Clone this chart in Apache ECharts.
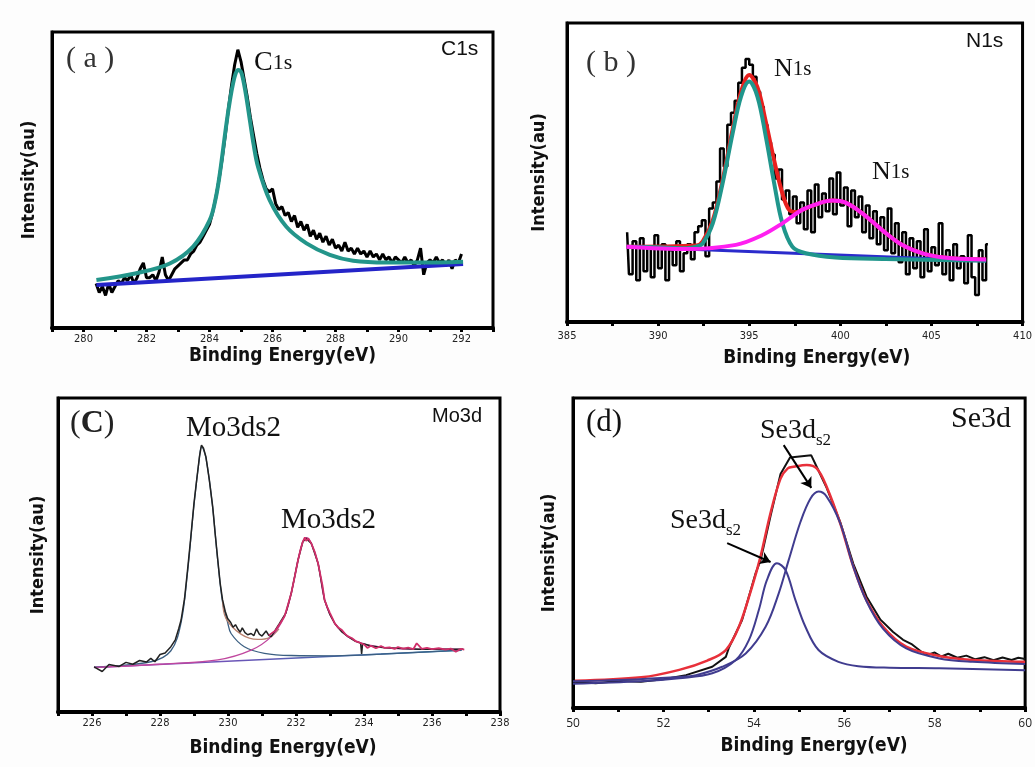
<!DOCTYPE html>
<html>
<head>
<meta charset="utf-8">
<title>XPS spectra</title>
<script src="https://cdn.jsdelivr.net/npm/echarts@6/dist/echarts.min.js"></script>
<style>
  html, body { margin: 0; padding: 0; background: #fdfdfd; }
  #chart { width: 1035px; height: 767px; }
</style>
</head>
<body>
<div id="chart"></div>
<script>
// (a) C1s  -- [binding energy, intensity]
var c1sRaw = [[280.4,15],[280.5,12],[280.6,14],[280.7,11],[280.8,15],[280.9,12],[281.0,14],
  [281.1,16],[281.2,15],[281.3,17],[281.4,16],[281.5,18],[281.6,15],[281.7,17],[281.8,20],[281.9,22],[282.0,17],
  [282.1,17],[282.2,18],[282.3,16],[282.4,19],[282.5,24],[282.6,18],[282.7,16],[282.8,18],[282.9,20],[283.0,21],
  [283.1,22],[283.2,23],[283.3,23],[283.4,25],[283.5,26],[283.6,28],[283.7,29],[283.8,31],[283.9,33],[284.0,35],
  [284.1,39],[284.2,44],[284.3,50],[284.4,57],[284.5,65],[284.6,74],[284.7,82],[284.8,89],[284.9,94],[285.0,90],
  [285.1,84],[285.2,78],[285.3,71],[285.4,65],[285.5,59],[285.6,54],[285.7,50],[285.8,47],[285.9,46],[286.0,47],
  [286.1,42],[286.2,40],[286.3,41],[286.4,38],[286.5,39],[286.6,36],[286.7,38],[286.8,34],[286.9,36],[287.0,33],
  [287.1,35],[287.2,31],[287.3,33],[287.4,30],[287.5,32],[287.6,29],[287.7,31],[287.8,28],[287.9,30],[288.0,27],
  [288.1,28],[288.2,26],[288.3,29],[288.4,26],[288.5,27],[288.6,25],[288.7,27],[288.8,25],[288.9,26],[289.0,24],
  [289.1,26],[289.2,24],[289.3,25],[289.4,23],[289.5,25],[289.6,23],[289.7,24],[289.8,22],[289.9,24],[290.0,23],
  [290.1,22],[290.2,24],[290.3,22],[290.4,23],[290.5,21],[290.6,23],[290.7,27],[290.8,18],[290.9,22],[291.0,23],
  [291.1,22],[291.2,24],[291.3,22],[291.4,23],[291.5,21],[291.6,23],[291.7,20],[291.8,23],[291.9,22],[292.0,25]];
var c1sFit = [[280.41,16.2],[281.68,18.5],[282.74,21.8],[283.48,27.5],[284.01,36.5],[284.2,44],[284.33,52.3],
  [284.54,69.2],[284.65,77],[284.75,82.7],[284.83,86],[284.91,87.2],[285.0,86.5],[285.07,83.8],[285.17,78],
  [285.28,70.3],[285.4,62],[285.54,54.5],[285.91,43.2],[286.44,34.2],[287.08,28.6],[287.82,24.7],[288.56,22.7],
  [289.62,22.1],[290.68,22.1],[292.05,22.4]];
var c1sBase = [[280.41,14.5],[292.05,21.6]];
var c1sTicks = [280, 282, 284, 286, 288, 290, 292];

// (b) N1s
var n1sRaw = [[388.3,30],[388.5,16],[388.7,27],[388.9,14],[389.1,28],[389.3,17],[389.5,25],[389.7,15],[389.9,29],[390.1,18],
  [390.3,26],[390.5,14],[390.7,24],[390.9,19],[391.1,27],[391.3,17],[391.5,23],[391.7,26],[391.9,21],[392.1,30],
  [392.3,32],[392.5,34],[392.7,22],[392.9,38],[393.1,40],[393.3,47],[393.5,58],[393.7,52],[393.9,66],[394.1,70],
  [394.3,74],[394.5,80],[394.7,85],[394.9,88],[395.1,86],[395.3,82],[395.5,77],[395.7,72],[395.9,66],[396.1,60],
  [396.3,56],[396.5,48],[396.7,51],[396.9,41],[397.1,44],[397.3,36],[397.5,42],[397.7,33],[397.9,40],[398.1,31],
  [398.3,44],[398.5,30],[398.7,46],[398.9,35],[399.1,43],[399.3,37],[399.5,48],[399.7,36],[399.9,50],[400.1,39],
  [400.3,45],[400.5,32],[400.7,44],[400.9,35],[401.1,42],[401.3,30],[401.5,39],[401.7,28],[401.9,37],[402.1,26],
  [402.3,35],[402.5,24],[402.7,38],[402.9,23],[403.1,33],[403.3,20],[403.5,30],[403.7,16],[403.9,28],[404.1,18],
  [404.3,27],[404.5,15],[404.7,31],[404.9,17],[405.1,25],[405.3,19],[405.5,33],[405.7,16],[405.9,24],[406.1,14],
  [406.3,26],[406.5,18],[406.7,22],[406.9,13],[407.1,29],[407.3,15],[407.5,9],[407.7,24],[407.9,14],[408.1,26]];
var n1sSum = [[388.26,25.2],[392.1,25.6],[392.45,27],[393.0,34],[393.54,47.5],[394.09,64.5],[394.55,77],[395.0,82.6],
  [395.45,78.5],[395.91,67],[396.37,54],[396.82,43],[397.19,37.5],[397.6,36.8],[397.9,37.5],[398.83,39.7],[399.55,40.6],
  [400.28,39.9],[401.19,36.4],[402.28,30.8],[403.38,25.8],[404.66,22.7],[406.11,21.3],[408.0,20.9]];
var n1sPeak1 = [[388.26,25.2],[390.0,25],[391.54,24.7],[392.1,25.2],[392.45,26.3],[393.0,33],[393.54,46.4],[394.09,63.1],
  [394.55,75.4],[395.0,80.4],[395.45,75.4],[395.91,62],[396.37,46.4],[396.82,33],[397.37,25.2],[398.1,23],
  [399.74,21.6],[402.47,21.1],[408.0,20.5]];
var n1sPeak2 = [[388.26,25.2],[391.54,24.4],[394.27,25.8],[395.73,29.1],[396.82,33],[397.9,37.5],[398.83,39.7],
  [399.55,40.6],[400.28,39.9],[401.19,36.4],[402.28,30.8],[403.38,25.8],[404.66,22.7],[406.11,21.3],[408.0,20.9]];
var n1sBase = [[388.26,25.2],[408.0,20.5]];
var n1sTicks = [385, 390, 395, 400, 405, 410];

// (c) Mo3d
var mo3dRaw = [[226.06,14.4],[226.3,12.9],[226.5,15.1],[226.8,14.5],[227.0,15.8],[227.2,15.2],[227.4,16.4],[227.6,15.9],
  [227.73,17.1],[227.85,16.0],[228.0,18.3],[228.15,18.8],[228.32,20.8],[228.45,23],[228.55,26.5],[228.62,29.3],
  [228.72,36],[228.81,45.2],[228.9,55],[229.0,66.5],[229.08,74],[229.16,81.3],[229.22,85.0],[229.28,84],[229.35,81.3],
  [229.45,74],[229.55,65.4],[229.62,57],[229.7,48.4],[229.77,41],[229.84,35.7],[229.92,32],[229.99,29.8],[230.08,28.5],
  [230.15,27],[230.22,27.8],[230.28,26.6],[230.36,25.4],[230.42,26.8],[230.5,25.3],[230.58,24.6],[230.68,25],
  [230.76,24.3],[230.84,26.5],[230.92,24.8],[231.0,24.2],[231.12,25.8],[231.2,24.4],[231.27,24],[231.5,28],
  [231.7,31.5],[231.86,37.8],[232.06,48.4],[232.2,54.2],[232.3,55.3],[232.45,53.7],[232.65,47.3],[232.84,35.7],
  [233.0,31],[233.14,28.2],[233.35,25.5],[233.53,24],[233.75,22.5],[233.9,22],[233.93,18.5],[233.96,21.8],
  [234.2,21],[234.61,20.5],[235.0,20.3],[235.6,20],[236.2,20],[236.92,20]];
var mo3dRaw2 = [[231.2,24.4],[231.4,26],[231.55,28.5],[231.66,30.4],[231.76,34],[231.86,37.8],[231.96,43],[232.06,48.4],
  [232.14,52],[232.2,54.2],[232.26,55.6],[232.3,54.5],[232.36,55.3],[232.45,53.7],[232.55,51],[232.65,47.3],
  [232.72,43.5],[232.78,40.2],[232.84,35.7],[232.92,33.4],[233.0,31.5],[233.07,29.9],[233.14,28.2],[233.25,26.8],
  [233.35,26.1],[233.45,24.8],[233.53,24.1],[233.65,23.5],[233.75,22.6],[233.85,22.2],[234.0,21.5],[234.1,20.4],
  [234.2,21.1],[234.35,20.3],[234.5,21],[234.61,20.4],[234.75,20.6],[234.9,20.1],[235.0,20.7],[235.15,20.2],
  [235.3,20.5],[235.45,20],[235.55,21.9],[235.7,20.1],[235.85,20.4],[236.0,20],[236.2,20.3],[236.4,19.9],
  [236.55,20.2],[236.7,19.2],[236.85,20.1],[236.95,19.9]];
var mo3dPeak1 = [[226.06,14.3],[227.73,16.0],[228.32,19.5],[228.62,28.5],[228.81,44.5],[229.0,66],[229.16,81],
  [229.22,84.6],[229.35,81],[229.55,65],[229.7,48],[229.84,35],[229.99,28.5],[230.09,25],[230.48,20.8],
  [231.07,18.7],[231.86,18.0],[233.14,17.9],[234.5,18.4],[236.87,19.7]];
var mo3dPeak2 = [[226.06,14.2],[228.0,15.2],[229.7,16.6],[230.68,19.7],[231.27,24],[231.66,30.4],[231.86,37.8],
  [232.06,48.4],[232.2,54.2],[232.32,55.5],[232.45,53.7],[232.65,47.3],[232.84,35.7],[233.14,28.2],[233.53,24],
  [233.92,21.9],[234.61,20.5],[235.6,20],[236.92,20]];
var mo3dSum = [[229.84,35.6],[229.94,29.8],[230.38,24.8],[230.88,23.1],[231.22,23.7],[231.5,26.5]];
var mo3dBase = [[226.06,14.2],[236.87,19.7]];
var mo3dTicks = [226, 228, 230, 232, 234, 236, 238];

// (d) Se3d
var se3dRaw = [[50.0,8.5],[50.5,8.0],[51.0,8.7],[51.5,8.5],[52.0,9.3],[52.5,10.6],[53.08,13.3],[53.38,16.5],
  [53.45,19.5],[53.74,28.4],[54.04,43.5],[54.15,47.7],[54.37,62],[54.59,75.5],[54.8,80.8],[55.27,81.5],[55.4,77.5],
  [55.61,71],[55.91,60],[56.2,46.5],[56.49,36],[56.8,28.5],[57.08,24.5],[57.3,22],[57.5,20.5],[57.7,18.2],
  [57.85,17.2],[58.0,17.9],[58.15,16.6],[58.3,17.5],[58.5,16.2],[58.7,16.9],[58.9,15.7],[59.1,16.4],[59.3,15.4],
  [59.5,16.3],[59.7,15.5],[59.85,16.2],[60.0,15.8]];
var se3dSum = [[50.04,8.8],[51.51,9.9],[52.35,12.3],[52.97,15.3],[53.38,18.7],[53.67,26.2],[53.96,39.1],[54.15,49],
  [54.37,63],[54.59,74],[54.75,77.3],[54.88,77.8],[55.17,78.4],[55.39,77.3],[55.61,71.4],[55.91,59.6],[56.2,45.6],
  [56.49,34.8],[56.86,26.2],[57.37,19.8],[58.1,16.8],[58.84,15.5],[60.0,14.9]];
var se3dPeak1 = [[50.0,7.8],[51.5,8.6],[52.35,9.6],[53.08,11.2],[53.6,15.5],[53.89,21.9],[54.11,31.6],[54.29,41.3],
  [54.51,46.7],[54.7,44.5],[54.92,34.8],[55.14,26.2],[55.43,18.7],[55.87,14.9],[56.31,13.5],[57.0,13.0],[58.1,12.8],
  [60.0,12.2]];
var se3dPeak2 = [[50.0,8.6],[51.0,9.0],[52.35,10.0],[52.72,10.6],[53.3,13.3],[53.82,17.6],[54.26,26.2],[54.55,37],
  [54.77,47.7],[55.03,60],[55.25,67.5],[55.43,69.8],[55.61,68.2],[55.91,59.6],[56.2,45.6],[56.49,34.5],[56.86,25.5],
  [57.37,19.2],[58.1,16.0],[58.84,14.9],[60.0,14.2]];
var se3dArrows = [[[54.66,84.8],[55.27,71]], [[53.41,53.2],[54.37,47.1]]];
var se3dTicks = [50, 52, 54, 56, 58, 60];

var SERIF = '"Liberation Serif", "Times New Roman", serif';
var SANS = '"Liberation Sans", Arial, sans-serif';
var COND = '"DejaVu Sans Condensed", "Liberation Sans Narrow", sans-serif';

var grids = [
  { left: 52, top: 32, width: 441, height: 296 },
  { left: 567, top: 23, width: 456, height: 299 },
  { left: 58, top: 398, width: 442, height: 314 },
  { left: 573, top: 398, width: 455, height: 310 }
];
grids.forEach(function (g) {
  g.show = true;
  g.borderColor = '#000';
  g.borderWidth = 3;
  g.backgroundColor = '#fff';
});

function xAxis(idx, min, max, step, ticks, opt) {
  return {
    type: 'value', gridIndex: idx, min: min, max: max, interval: step,
    name: 'Binding Energy(eV)', nameLocation: 'middle', nameGap: opt.gap,
    nameTextStyle: { fontFamily: COND, fontWeight: 'bold', fontSize: 19, color: '#111', padding: [0, 0, 0, opt.shift] },
    axisLine: { lineStyle: { color: '#000', width: 4 } },
    axisTick: { length: 4, lineStyle: { color: '#000', width: 3 } },
    axisLabel: {
      margin: opt.margin, fontSize: opt.fontSize, fontFamily: opt.font, color: '#222',
      formatter: function (v) {
        return ticks.some(function (t) { return Math.abs(t - v) < 1e-6; }) ? String(v) : '';
      }
    },
    splitLine: { show: false }
  };
}

function yAxis(idx, gap) {
  return {
    type: 'value', gridIndex: idx, min: 0, max: 100,
    name: 'Intensity(au)', nameLocation: 'middle', nameGap: gap,
    nameTextStyle: { fontFamily: COND, fontWeight: 'bold', fontSize: 18, color: '#111' },
    axisLine: { show: true, lineStyle: { color: '#000', width: 3 } },
    axisTick: { show: false },
    axisLabel: { show: false },
    splitLine: { show: false }
  };
}

function line(idx, data, color, width, smooth) {
  return {
    type: 'line', xAxisIndex: idx, yAxisIndex: idx, data: data,
    showSymbol: false, smooth: smooth ? 0.35 : false,
    lineStyle: { color: color, width: width },
    emphasis: { disabled: true }
  };
}

function text(left, top, content, font, fill, rich) {
  var style = { text: content, font: font, fill: fill || '#111' };
  if (rich) style.rich = rich;
  return { type: 'text', left: left, top: top, style: style };
}

var chart = echarts.init(document.getElementById('chart'));

var mo3dBaseLine = line(2, mo3dBase, new echarts.graphic.LinearGradient(0, 0, 1, 0, [
  { offset: 0, color: '#9a3fc0' }, { offset: 1, color: '#1f78a8' }
]), 1.5, false);

var n1sRawLine = line(1, n1sRaw, '#000', 2.5, false);
n1sRawLine.step = 'middle';

var arrows = line(3, [], '#000', 2, false);
arrows.markLine = {
  silent: true, symbol: ['none', 'arrow'], symbolSize: 10,
  label: { show: false },
  lineStyle: { color: '#000', width: 2, type: 'solid' },
  data: se3dArrows.map(function (a) { return [{ coord: a[0] }, { coord: a[1] }]; })
};

var subRich = function (size) {
  return {
    m: { fontFamily: SERIF, fontSize: size, lineHeight: size, verticalAlign: 'top', color: '#111' },
    s: { fontFamily: SERIF, fontSize: 17, lineHeight: 17, padding: [size - 13, 0, 0, 0], verticalAlign: 'top', color: '#111' }
  };
};

chart.setOption({
  animation: false,
  backgroundColor: '#fdfdfd',
  grid: grids,
  xAxis: [
    xAxis(0, 279, 293, 1, c1sTicks, { gap: 19, shift: 20, margin: 6, fontSize: 11, font: COND }),
    xAxis(1, 385, 410, 2.5, n1sTicks, { gap: 27, shift: 44, margin: 9, fontSize: 11, font: COND }),
    xAxis(2, 225, 238, 1, mo3dTicks, { gap: 27, shift: 8, margin: 6, fontSize: 11, font: COND }),
    xAxis(3, 50, 60, 1, se3dTicks, { gap: 29, shift: 30, margin: 10, fontSize: 12, font: '"Open Sans", sans-serif' })
  ],
  yAxis: [yAxis(0, 14), yAxis(1, 19), yAxis(2, 11), yAxis(3, 15)],
  series: [
    line(0, c1sRaw, '#000', 3, false),
    line(0, c1sBase, '#2424c8', 4, false),
    line(0, c1sFit, '#23958a', 4, true),

    n1sRawLine,
    line(1, n1sBase, '#2b2bcc', 3, false),
    line(1, n1sSum, '#e8201e', 4, true),
    line(1, n1sPeak1, '#20968c', 4, true),
    line(1, n1sPeak2, '#ff1ff0', 4, true),

    mo3dBaseLine,
    line(2, mo3dPeak1, '#3b5f82', 1.3, true),
    line(2, mo3dSum, '#b9826f', 1.3, true),
    line(2, mo3dPeak2, '#c0479e', 1.3, true),
    line(2, mo3dRaw, '#222', 1.5, false),
    line(2, mo3dRaw2, '#d02f6a', 1.8, false),

    line(3, se3dRaw, '#111', 2, false),
    line(3, se3dSum, '#e8303a', 2.5, true),
    line(3, se3dPeak2, '#403c8f', 2, true),
    line(3, se3dPeak1, '#403c8f', 2, true),
    arrows
  ],
  graphic: [
    text(66, 44, '( a )', '30px ' + SERIF, '#333'),
    text(254, 49, '{m|C}{n|1s}', '', '#111', {
      m: { fontFamily: SERIF, fontSize: 28, color: '#111' },
      n: { fontFamily: SERIF, fontSize: 22, color: '#111' }
    }),
    text(441, 39, 'C1s', '21px ' + SANS),

    text(586, 48, '( b )', '30px ' + SERIF, '#333'),
    text(774, 56, '{m|N}{n|1s}', '', '#111', {
      m: { fontFamily: SERIF, fontSize: 26, color: '#111' },
      n: { fontFamily: SERIF, fontSize: 21, color: '#111' }
    }),
    text(872, 159, '{m|N}{n|1s}', '', '#111', {
      m: { fontFamily: SERIF, fontSize: 26, color: '#111' },
      n: { fontFamily: SERIF, fontSize: 21, color: '#111' }
    }),
    text(966, 31, 'N1s', '21px ' + SANS),

    text(70, 408, '{p|(}{c|C}{p|)}', '', '#222', {
      p: { fontFamily: SERIF, fontSize: 32, color: '#333' },
      c: { fontFamily: SERIF, fontSize: 32, fontWeight: 'bold', color: '#222' }
    }),
    text(186, 414, 'Mo3ds2', '29px ' + SERIF),
    text(281, 506, 'Mo3ds2', '29px ' + SERIF),
    text(432, 406, 'Mo3d', '20px ' + SANS),

    text(586, 407, '(d)', '31px ' + SERIF),
    text(760, 417, '{m|Se3d}{s|s2}', '', '#111', subRich(28)),
    text(670, 507, '{m|Se3d}{s|s2}', '', '#111', subRich(28)),
    text(951, 404, 'Se3d', '30px ' + SERIF)
  ]
});
</script>
</body>
</html>
